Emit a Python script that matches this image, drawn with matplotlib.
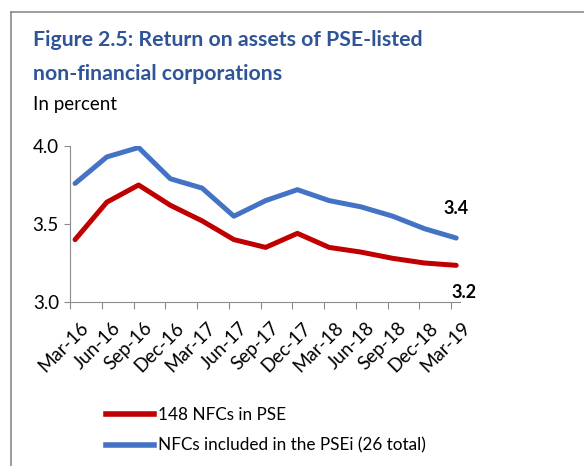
import numpy as np
import matplotlib
matplotlib.use("Agg")
import matplotlib.pyplot as plt
import matplotlib.transforms as mtransforms
from matplotlib.lines import Line2D

# ── Datos ──────────────────────────────────────────────────────────────
quarters = ["Mar-16", "Jun-16", "Sep-16", "Dec-16", "Mar-17", "Jun-17", "Sep-17",
            "Dec-17", "Mar-18", "Jun-18", "Sep-18", "Dec-18", "Mar-19"]
nfc_pse = [3.40, 3.64, 3.75, 3.62, 3.52, 3.40, 3.35, 3.44, 3.35, 3.32, 3.28, 3.25, 3.235]
nfc_psei = [3.76, 3.93, 3.99, 3.79, 3.73, 3.55, 3.65, 3.72, 3.65, 3.61, 3.55, 3.47, 3.41]
label_pse = "148 NFCs in PSE"
label_psei = "NFCs included in the PSEi (26 total)"

RED = "#C00000"
BLUE = "#4472C4"
TITLE_BLUE = "#2F5597"
plt.rcParams["font.family"] = ["Lato", "DejaVu Sans"]

W, H = 584, 466
fig = plt.figure(figsize=(W / 100, H / 100), dpi=100)

def px(x, y):
    return x / W, 1 - y / H

# marco del recuadro
fig.add_artist(Line2D([11 / W, 11 / W], [0, 1 - 12 / H], color="#8c8c8c", lw=1.2))
fig.add_artist(Line2D([11 / W, 1], [1 - 12 / H, 1 - 12 / H], color="#8c8c8c", lw=1.2))

fig.text(*px(33, 46), "Figure 2.5: Return on assets of PSE-listed", color=TITLE_BLUE,
         fontsize=15.3, fontweight="bold", va="baseline")
fig.text(*px(33, 80), "non-financial corporations", color=TITLE_BLUE,
         fontsize=15.3, fontweight="bold", va="baseline")
fig.text(*px(33, 110), "In percent", color="black", fontsize=13.5, va="baseline")

# ejes
left, right, top, bottom = 70, 460, 146, 302
ax = fig.add_axes([left / W, 1 - bottom / H, (right - left) / W, (bottom - top) / H])
x = np.arange(len(quarters))
ax.plot(x, nfc_psei, color=BLUE, lw=3.6, solid_capstyle="round", solid_joinstyle="round")
ax.plot(x, nfc_pse, color=RED, lw=3.6, solid_capstyle="round", solid_joinstyle="round")

ax.set_ylim(3.0, 4.0)
ax.set_xlim(-0.16, 12.12)
ax.set_yticks([3.0, 3.5, 4.0])
ax.set_yticklabels([f"{v:.1f}" for v in [3.0, 3.5, 4.0]], fontsize=13.5)
ax.set_xticks(x - 0.16)
ax.set_xticklabels([])
ax.tick_params(axis="x", length=5, color="#8c8c8c")
ax.tick_params(axis="y", length=4, color="#8c8c8c", pad=4)
for s in ["top", "right"]:
    ax.spines[s].set_visible(False)
for s in ["left", "bottom"]:
    ax.spines[s].set_color("#8c8c8c")

# etiquetas del eje x, giradas 45°
lab_tr = mtransforms.blended_transform_factory(ax.transData, ax.transAxes) + \
    mtransforms.ScaledTranslation(10 / 100, -17 / 100, fig.dpi_scale_trans)
for xi, q in zip(x, quarters):
    ax.text(xi - 0.16, 0, q, transform=lab_tr, rotation=45, rotation_mode="anchor",
            ha="right", va="top", fontsize=13.5)

ax.annotate(f"{nfc_psei[-1]:.1f}", xy=(x[-1], nfc_psei[-1]), xytext=(0, 21),
            textcoords="offset points", ha="center", va="center",
            fontsize=13, fontweight="bold")
ax.annotate(f"{nfc_pse[-1]:.1f}", xy=(x[-1], nfc_pse[-1]), xytext=(6, -19.5),
            textcoords="offset points", ha="center", va="center",
            fontsize=13, fontweight="bold", annotation_clip=False)

handles = [Line2D([], [], color=RED, lw=4), Line2D([], [], color=BLUE, lw=4)]
fig.legend(handles, [label_pse, label_psei], loc="upper left",
           bbox_to_anchor=px(101, 402), frameon=False, fontsize=12.3,
           handlelength=2.8, handletextpad=0.25, labelspacing=0.85,
           borderaxespad=0, borderpad=0.3)

fig.savefig("out.png", dpi=100)
